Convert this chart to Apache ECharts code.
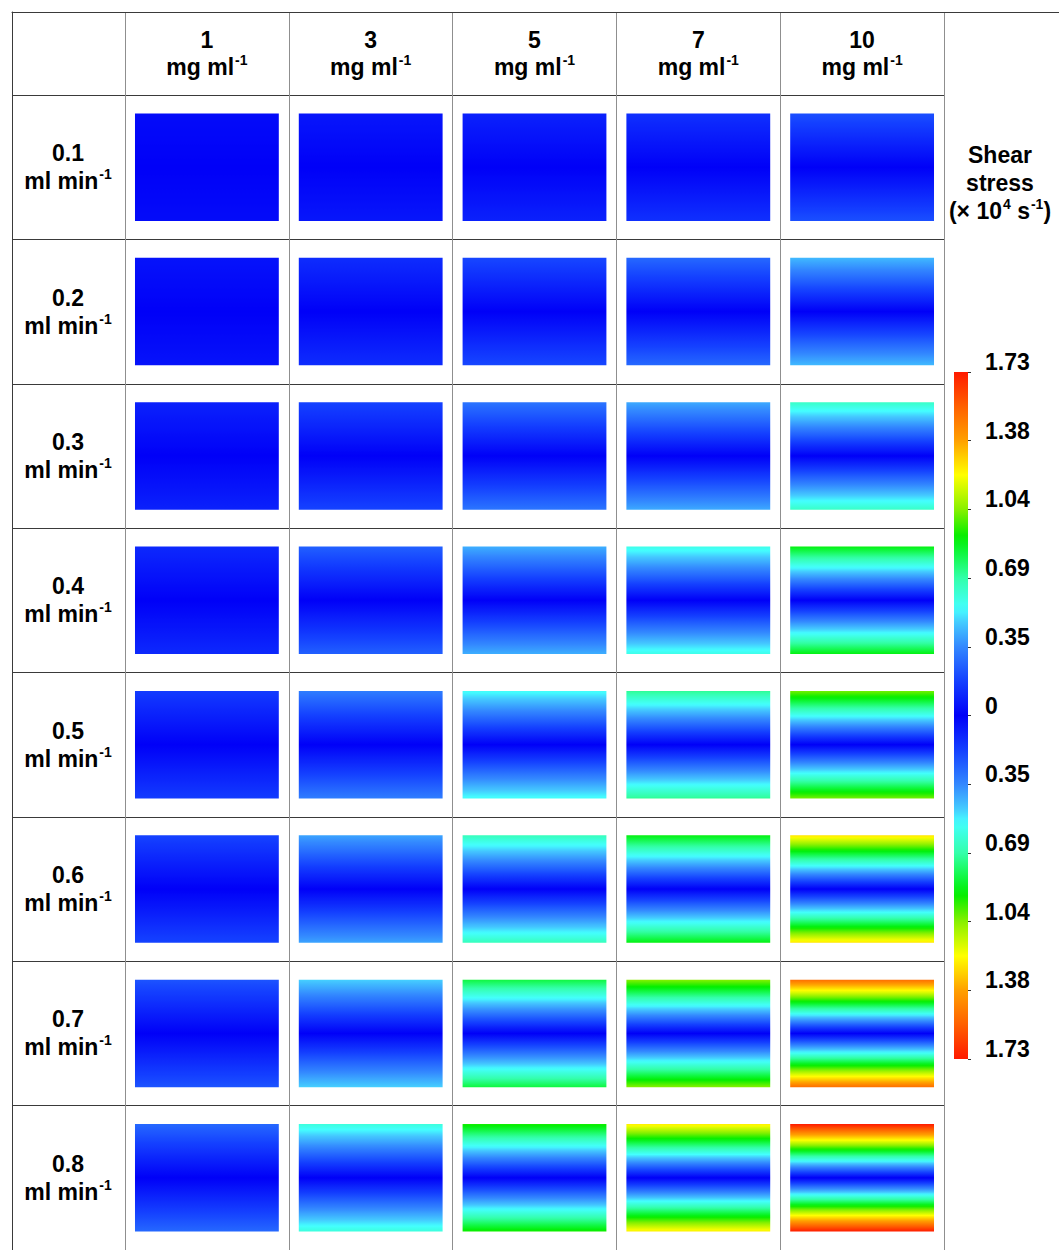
<!DOCTYPE html>
<html><head><meta charset="utf-8">
<script src="https://cdn.jsdelivr.net/npm/echarts@6/dist/echarts.min.js"></script>
<style>html,body{margin:0;padding:0;background:#fff}#c{width:1059px;height:1250px}</style>
</head><body><div id="c"></div>
<script>
// ---- data ----
const concentrations = ['1', '3', '5', '7', '10'];            // mg ml^-1 (columns)
const flowRates = ['0.1', '0.2', '0.3', '0.4', '0.5', '0.6', '0.7', '0.8']; // ml min^-1 (rows)
// maximum (wall) shear stress, ×10^4 s^-1, per concentration, rows top→bottom
const shear_1mg  = [0.03, 0.05, 0.09, 0.11, 0.16, 0.18, 0.22, 0.27];
const shear_3mg  = [0.06, 0.12, 0.18, 0.25, 0.32, 0.40, 0.48, 0.60];
const shear_5mg  = [0.09, 0.19, 0.30, 0.42, 0.55, 0.66, 0.82, 0.92];
const shear_7mg  = [0.13, 0.27, 0.41, 0.58, 0.72, 0.88, 1.04, 1.24];
const shear_10mg = [0.21, 0.44, 0.64, 0.88, 1.02, 1.26, 1.52, 1.73];
const colorbarMax = 1.73;
const colorbarStep = 0.346;
const colorbarTicks = ['1.73', '1.38', '1.04', '0.69', '0.35', '0', '0.35', '0.69', '1.04', '1.38', '1.73'];

// ---- style ----
const FONT = '"Liberation Sans", Arial, sans-serif';
const cmapStops = [
  [0.00, '#0000f8'], [0.10, '#1440ff'], [0.20, '#3388ff'], [0.27, '#44c8ff'],
  [0.31, '#44ffff'], [0.40, '#33ffaa'], [0.47, '#11f844'], [0.52, '#00ee00'],
  [0.60, '#88f000'], [0.70, '#ffff00'], [0.80, '#ffa000'], [0.90, '#ff6000'], [1.00, '#ff1a00']
];
function hex(c) { return [parseInt(c.slice(1,3),16), parseInt(c.slice(3,5),16), parseInt(c.slice(5,7),16)]; }
function cmap(f) {
  f = Math.max(0, Math.min(1, f));
  for (let i = 1; i < cmapStops.length; i++) {
    if (f <= cmapStops[i][0]) {
      const a = cmapStops[i-1], b = cmapStops[i];
      const t = (f - a[0]) / (b[0] - a[0]);
      const ca = hex(a[1]), cb = hex(b[1]);
      return 'rgb(' + ca.map((v, k) => Math.round(v + (cb[k] - v) * t)).join(',') + ')';
    }
  }
  return cmapStops[cmapStops.length-1][1];
}

const shearByConc = [shear_1mg, shear_3mg, shear_5mg, shear_7mg, shear_10mg];
const cellData = [];
shearByConc.forEach((arr, ci) => arr.forEach((v, ri) => cellData.push([ci, ri, v])));

const bold = {fontSize: 23, fontWeight: 'bold', color: '#000', fontFamily: FONT};
const sup = {fontSize: 14, fontWeight: 'bold', color: '#000', fontFamily: FONT, lineHeight: 28, verticalAlign: 'top', padding: [0, 0, 0, 1]};
const richLab = {b: Object.assign({lineHeight: 27}, bold), s: sup};
const richRow = {b: Object.assign({lineHeight: 28}, bold), s: sup};

function renderCell(params, api) {
  const c = api.coord([api.value(0), api.value(1)]);
  const s = api.size([1, 1]);
  const w = Math.abs(s[0]) * 0.878, h = Math.abs(s[1]) * 0.745;
  const m = api.value(2);
  const stops = [];
  const N = 60;
  for (let i = 0; i <= N; i++) {
    const t = i / N;
    stops.push({offset: t, color: cmap(m * Math.abs(1 - 2 * t) / colorbarMax)});
  }
  return {type: 'rect', shape: {x: c[0] - w / 2, y: c[1] - h / 2, width: w, height: h},
    style: {fill: {type: 'linear', x: 0, y: 0, x2: 0, y2: 1, colorStops: stops}}};
}
function renderBar(params, api) {
  const top = api.coord([api.value(0), api.value(2)]);
  const bot = api.coord([api.value(0), api.value(1)]);
  const bw = Math.abs(api.size([1, 0])[0]);
  const stops = [];
  const N = 80;
  for (let i = 0; i <= N; i++) {
    const t = i / N;
    stops.push({offset: t, color: cmap(Math.abs(1 - 2 * t))});
  }
  return {type: 'rect', shape: {x: top[0] - bw / 2, y: top[1], width: bw, height: bot[1] - top[1]},
    style: {fill: {type: 'linear', x: 0, y: 0, x2: 0, y2: 1, colorStops: stops}}};
}

const hidden = {axisLine: {show: false}, axisTick: {show: false}, axisLabel: {show: false}, splitLine: {show: false}};

const option = {
  backgroundColor: '#fff',
  animation: false,
  grid: [
    {left: 12, top: 12, width: 1047, height: 1238},   // outer border
    {left: 12, top: 95, width: 932, height: 1163},    // row separators
    {left: 125, top: 12, width: 819, height: 1238},   // column separators
    {left: 125, top: 95, width: 819, height: 1163},   // cells
    {left: 954, top: 372, width: 14, height: 687}     // colour bar
  ],
  xAxis: [
    Object.assign({}, hidden, {gridIndex: 0, type: 'value', min: 0, max: 1, position: 'top',
      axisLine: {show: true, onZero: false, lineStyle: {color: '#3a3a3a', width: 1}}}),
    Object.assign({}, hidden, {gridIndex: 1, type: 'value', min: 0, max: 1}),
    Object.assign({}, hidden, {gridIndex: 2, type: 'category', data: concentrations,
      splitLine: {show: true, interval: 0, lineStyle: {color: '#8f8f8f', width: 1}}}),
    Object.assign({}, hidden, {gridIndex: 3, type: 'category', data: concentrations, position: 'top',
      axisLabel: {show: true, interval: 0, margin: 14,
        formatter: v => '{b|' + v + '}\n{b|mg ml}{s|-1}', rich: richLab}}),
    Object.assign({}, hidden, {gridIndex: 4, type: 'category', data: ['bar']})
  ],
  yAxis: [
    Object.assign({}, hidden, {gridIndex: 0, type: 'value', min: 0, max: 1, position: 'left',
      axisLine: {show: true, onZero: false, lineStyle: {color: '#3a3a3a', width: 1}}}),
    Object.assign({}, hidden, {gridIndex: 1, type: 'category', data: flowRates, inverse: true,
      splitLine: {show: true, interval: 0, lineStyle: {color: '#3a3a3a', width: 1}}}),
    Object.assign({}, hidden, {gridIndex: 2, type: 'value', min: 0, max: 1}),
    Object.assign({}, hidden, {gridIndex: 3, type: 'category', data: flowRates, inverse: true,
      axisLabel: {show: true, interval: 0, margin: 57, align: 'center',
        formatter: v => '{b|' + v + '}\n{b|ml min}{s|-1}', rich: richRow}}),
    Object.assign({}, hidden, {gridIndex: 4, type: 'value', position: 'right',
      min: -colorbarMax, max: colorbarMax, interval: colorbarStep,
      axisTick: {show: true, length: 3, lineStyle: {color: '#333'}},
      axisLabel: {show: true, margin: 17, verticalAlign: 'bottom', lineHeight: 20,
        fontSize: 23, fontWeight: 'bold', color: '#000', fontFamily: FONT,
        formatter: v => colorbarTicks[Math.round((colorbarMax - v) / colorbarStep)]}})
  ],
  graphic: [{
    type: 'text', x: 1000, y: 141,
    style: {
      text: '{b|Shear}\n{b|stress}\n{b|(× 10}{s|4}{b| s}{s|-1}{b|)}',
      align: 'center', verticalAlign: 'top',
      rich: {b: Object.assign({lineHeight: 28}, bold), s: sup}
    }
  }],
  series: [
    {type: 'custom', xAxisIndex: 3, yAxisIndex: 3, renderItem: renderCell, data: cellData, silent: true},
    {type: 'custom', xAxisIndex: 4, yAxisIndex: 4, renderItem: renderBar, data: [[0, -colorbarMax, colorbarMax]], silent: true}
  ]
};
const chart = echarts.init(document.getElementById('c'), null, {renderer: 'svg'});
chart.setOption(option);
</script>
</body></html>
